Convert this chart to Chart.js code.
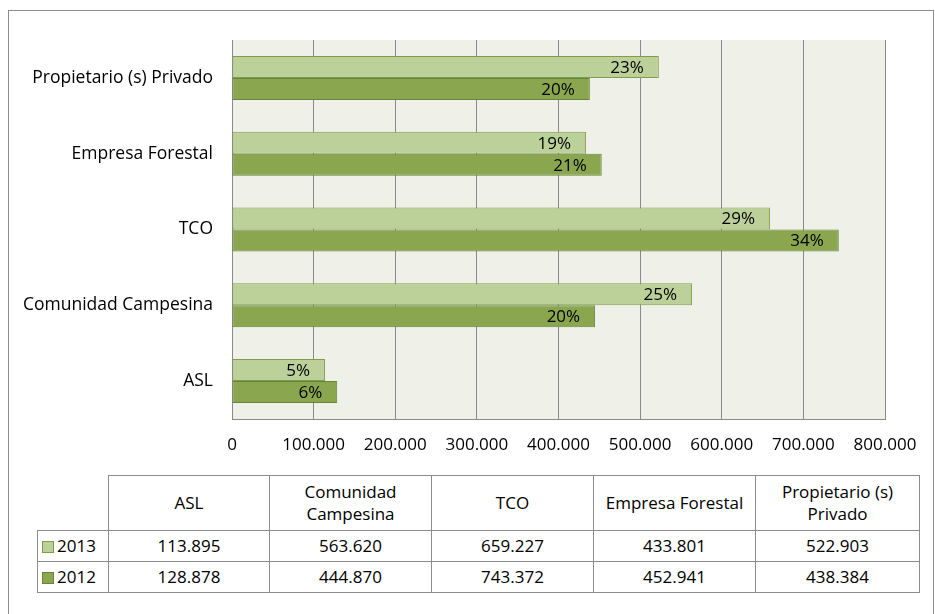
<!DOCTYPE html>
<html>
<head>
<meta charset="utf-8">
<script src="https://cdn.jsdelivr.net/npm/chart.js@4"></script>
<style>
  body { margin: 0; background: #fff; font-family: "Open Sans", sans-serif; }
  #frame { position: absolute; left: 8px; top: 10px; width: 924px; height: 620px; border: 1px solid #8c8c8c; }
  #wrap { position: absolute; left: 0; top: 0; width: 935px; height: 470px; }
  #table { position: absolute; left: 37px; top: 475px; width: 882px; border-collapse: collapse; table-layout: fixed; font-size: 17px; color: #000; }
  #table td { border: 1px solid #8c8c8c; text-align: center; padding: 0; height: 30px; line-height: 22px; }
  #table tr:first-child td { height: 54px; }
  #table td.corner { border-top: none; border-left: none; }
  #table td.year { text-align: left; padding-left: 4px; }
  .sw { display: inline-block; width: 12px; height: 12px; margin-right: 3px; vertical-align: -1px; box-sizing: border-box; }
</style>
</head>
<body>
<div id="frame"></div>
<div id="wrap"><canvas id="chart"></canvas></div>
<table id="table">
  <colgroup><col style="width:71px"><col style="width:161px"><col style="width:162px"><col style="width:162px"><col style="width:162px"><col style="width:164px"></colgroup>
  <tbody id="tbody"></tbody>
</table>
<script>
const categories = ["ASL", "Comunidad Campesina", "TCO", "Empresa Forestal", "Propietario (s) Privado"];
const headerLines = [["ASL"], ["Comunidad", "Campesina"], ["TCO"], ["Empresa Forestal"], ["Propietario (s)", "Privado"]];
const years = ["2013", "2012"];
const values2013 = [113895, 563620, 659227, 433801, 522903];
const values2012 = [128878, 444870, 743372, 452941, 438384];
const xTicks = [0, 100000, 200000, 300000, 400000, 500000, 600000, 700000, 800000];

const lightFill = "#bcd19a";
const lightBorder = "#7f9c4c";
const darkFill = "#8aa64f";
const darkBorder = "#66843a";
const gridColor = "#8a8a8a";
const fontFamily = "Open Sans";

const fmt = (n) => n.toLocaleString("de-DE");

const sum = (arr) => arr.reduce((a, b) => a + b, 0);
const pct = (arr) => arr.map((v) => Math.round((v / sum(arr)) * 100) + "%");

// chart shows the last category on top
const chartLabels = categories.slice().reverse();
const series = [
  { label: years[0], data: values2013.slice().reverse(), pcts: pct(values2013).reverse(), fill: lightFill, border: lightBorder },
  { label: years[1], data: values2012.slice().reverse(), pcts: pct(values2012).reverse(), fill: darkFill, border: darkBorder },
];

const plotBg = {
  id: "plotBg",
  beforeDraw(chart) {
    const { ctx, chartArea: a } = chart;
    ctx.save();
    ctx.fillStyle = "#eff1e9";
    ctx.fillRect(a.left, a.top, a.right - a.left, a.bottom - a.top);
    ctx.restore();
  },
};

const barLabels = {
  id: "barLabels",
  afterDatasetsDraw(chart) {
    const ctx = chart.ctx;
    ctx.save();
    ctx.font = "17px '" + fontFamily + "'";
    ctx.fillStyle = "#000";
    ctx.textAlign = "right";
    ctx.textBaseline = "middle";
    chart.data.datasets.forEach((ds, i) => {
      chart.getDatasetMeta(i).data.forEach((bar, j) => {
        ctx.fillText(series[i].pcts[j], bar.x - 15, bar.y + 1);
      });
    });
    ctx.restore();
  },
};

new Chart(document.getElementById("chart"), {
  type: "bar",
  data: {
    labels: chartLabels,
    datasets: series.map((s) => ({
      label: s.label,
      data: s.data,
      backgroundColor: s.fill,
      borderColor: s.border,
      borderWidth: 1,
      borderSkipped: false,
      categoryPercentage: 0.58,
      barPercentage: 1,
    })),
  },
  options: {
    indexAxis: "y",
    responsive: true,
    maintainAspectRatio: false,
    animation: false,
    layout: { padding: { top: 40, right: 50, left: 0, bottom: 0 } },
    plugins: { legend: { display: false }, tooltip: { enabled: false } },
    scales: {
      x: {
        min: 0,
        max: 800000,
        afterBuildTicks: (scale) => { scale.ticks = xTicks.map((v) => ({ value: v })); },
        afterFit: (scale) => { scale.height = 51; },
        grid: { color: gridColor, lineWidth: 1, drawTicks: false },
        border: { color: gridColor, width: 1 },
        ticks: { color: "#000", font: { family: fontFamily, size: 17 }, padding: 16, callback: (v) => (v === 0 ? "0" : fmt(v)) },
      },
      y: {
        afterFit: (scale) => { scale.width = 232; },
        grid: { display: false, drawTicks: false },
        border: { color: gridColor, width: 1 },
        ticks: { color: "#000", font: { family: fontFamily, size: 17.5 }, padding: 19 },
      },
    },
  },
  plugins: [plotBg, barLabels],
});

// data table under the chart
let html = '<tr><td class="corner"></td>' + headerLines.map((l) => "<td>" + l.join("<br>") + "</td>").join("") + "</tr>";
[values2013, values2012].forEach((vals, i) => {
  const s = series[i];
  html += '<tr><td class="year"><span class="sw" style="background:' + s.fill + ";border:1px solid " + s.border + '"></span>' + years[i] + "</td>" +
    vals.map((v) => "<td>" + fmt(v) + "</td>").join("") + "</tr>";
});
document.getElementById("tbody").innerHTML = html;
</script>
</body>
</html>
